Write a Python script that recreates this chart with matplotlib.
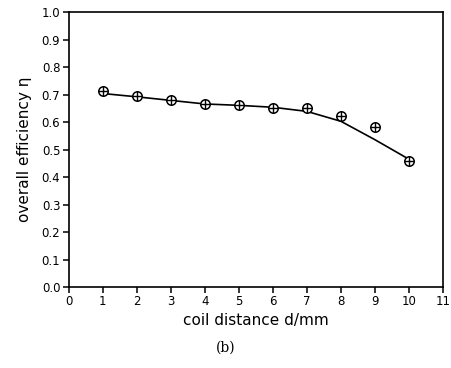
import numpy as np
import matplotlib.pyplot as plt

# measured points (circle-plus markers)
d_meas = [1, 2, 3, 4, 5, 6, 7, 8, 9, 10]
eta_meas = [0.714, 0.694, 0.679, 0.667, 0.664, 0.651, 0.650, 0.624, 0.583, 0.460]

# calculated curve
d_calc = [1, 2, 3, 4, 5, 6, 7, 8, 9, 10]
eta_calc = [0.704, 0.692, 0.679, 0.666, 0.661, 0.654, 0.639, 0.603, 0.536, 0.465]

plt.rcParams['font.family'] = ['DejaVu Sans']

fig = plt.figure(figsize=(4.52, 3.68), dpi=100)
ax = fig.add_axes([0.152, 0.220, 0.828, 0.747])

ax.plot(d_calc, eta_calc, color='black', lw=1.2)
ax.plot(d_meas, eta_meas, 'o', ms=6.8, mfc='white', mec='black', mew=1.1)
ax.plot(d_meas, eta_meas, '+', ms=6.8, color='black', mew=1.0)

ax.set_xlim(0, 11)
ax.set_ylim(0, 1.0)
ax.set_xticks(range(0, 12))
ax.set_yticks(np.arange(0, 1.01, 0.1))
ax.set_yticklabels([f"{v:.1f}" for v in np.arange(0, 1.01, 0.1)])
ax.tick_params(direction='out', length=4, width=1.1, labelsize=8.5, pad=2)
for s in ax.spines.values():
    s.set_linewidth(1.2)

ax.set_xlabel("coil distance d/mm", fontsize=11, labelpad=3)
ax.set_ylabel("overall efficiency η", fontsize=11, labelpad=7)

fig.text(0.5, 0.055, "(b)", ha='center', va='center', family='DejaVu Serif', fontsize=10)

fig.savefig("out.png", dpi=100)
